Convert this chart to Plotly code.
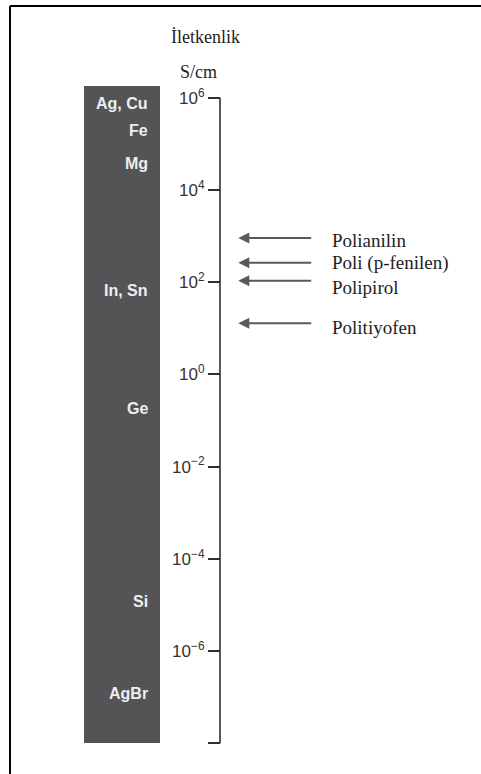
import plotly.graph_objects as go

# ---- data (log10 of conductivity, S/cm) ----
tick_exponents = [6, 4, 2, 0, -2, -4, -6, -8]
tick_labels = ["10<sup>6</sup>", "10<sup>4</sup>", "10<sup>2</sup>", "10<sup>0</sup>",
               "10<sup>−2</sup>", "10<sup>−4</sup>", "10<sup>−6</sup>", ""]
axis_span = [-8, 6]
bar_span = [-8.0, 6.26]

materials = ["Ag, Cu", "Fe", "Mg", "In, Sn", "Ge", "Si", "AgBr"]
material_log_s = [5.88, 5.28, 4.58, 1.83, -0.74, -4.93, -6.93]

polymers = ["Polianilin", "Poli (p-fenilen)", "Polipirol", "Politiyofen"]
polymer_log_s = [2.96, 2.42, 2.03, 1.11]

title_text = "İletkenlik"
unit_text = "S/cm"

# ---- geometry (pixels) ----
W, H = 481, 774
px_per_decade = 46.114
y6_px = 97.7
v_top = 6 + y6_px / px_per_decade
v_bot = 6 - (H - y6_px) / px_per_decade
axis_x = 220
bar_left, bar_right = 84, 160
label_yshift = [-3, 0, -7, -4]

fig = go.Figure()

fig.add_trace(go.Bar(
    x=[(bar_left + bar_right) / 2], y=[bar_span[1] - bar_span[0]], base=[bar_span[0]],
    width=[bar_right - bar_left], marker=dict(color="#545457", line=dict(width=0)),
    hoverinfo="skip", showlegend=False))

fig.add_trace(go.Scatter(
    x=[axis_x, axis_x], y=axis_span, mode="lines",
    line=dict(color="#2e2e2e", width=1.6), hoverinfo="skip", showlegend=False))

annotations = []
for name, v in zip(materials, material_log_s):
    annotations.append(dict(x=150, y=v, xref="x", yref="y", text="<b>" + name + "</b>", showarrow=False,
                            xanchor="right", yanchor="middle",
                            font=dict(family="Liberation Sans, Arial", size=16, color="#eeeeee")))

for name, v, ys in zip(polymers, polymer_log_s, label_yshift):
    annotations.append(dict(x=238.3, y=v, xref="x", yref="y", ax=312.7, ay=v,
                            axref="x", ayref="y", text="", showarrow=True,
                            arrowhead=2, arrowsize=1.1, arrowwidth=2, arrowcolor="#5a5a5a",
                            standoff=0, startstandoff=0))
    annotations.append(dict(x=330, y=v, xref="x", yref="y", text=name, showarrow=False,
                            xanchor="left", yanchor="middle", yshift=ys,
                            font=dict(family="Liberation Serif, Times New Roman", size=19, color="#1e1e1e")))

annotations.append(dict(x=205 / W, y=1 - 36.7 / H, xref="paper", yref="paper", text=title_text,
                        showarrow=False, xanchor="center", yanchor="middle",
                        font=dict(family="Liberation Serif, Times New Roman", size=18, color="#1e1e1e")))
annotations.append(dict(x=198 / W, y=1 - 71.7 / H, xref="paper", yref="paper", text=unit_text,
                        showarrow=False, xanchor="center", yanchor="middle",
                        font=dict(family="Liberation Serif, Times New Roman", size=18, color="#1e1e1e")))

shapes = [
    dict(type="line", xref="paper", yref="paper", x0=10 / W, x1=1.0, y0=1 - 6 / H, y1=1 - 6 / H,
         line=dict(color="#000000", width=2)),
    dict(type="line", xref="paper", yref="paper", x0=10 / W, x1=10 / W, y0=0, y1=1 - 6 / H,
         line=dict(color="#000000", width=2)),
]

fig.update_layout(
    width=W, height=H, margin=dict(l=0, r=0, t=0, b=0, pad=0),
    paper_bgcolor="white", plot_bgcolor="white",
    xaxis=dict(range=[0, W], visible=False, fixedrange=True, domain=[0, 1]),
    yaxis=dict(range=[v_bot, v_top], anchor="free", position=axis_x / W, side="left",
               tickmode="array", tickvals=tick_exponents, ticktext=tick_labels,
               ticks="outside", ticklen=12, tickwidth=1.5, tickcolor="#2e2e2e",
               tickfont=dict(family="Liberation Sans, Arial", size=17, color="#333333"),
               showgrid=False, zeroline=False, showline=False, fixedrange=True),
    annotations=annotations, shapes=shapes, showlegend=False, bargap=0,
)

fig.write_html("out.html")
